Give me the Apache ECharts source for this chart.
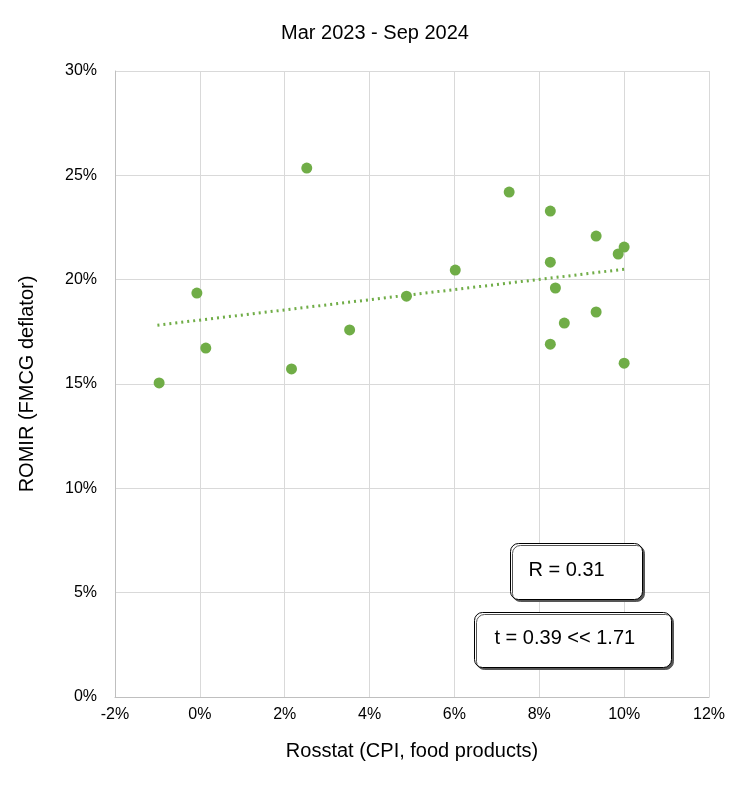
<!DOCTYPE html>
<html>
<head>
<meta charset="utf-8">
<script src="https://cdn.jsdelivr.net/npm/echarts@6/dist/echarts.min.js"></script>
<style>html,body{margin:0;padding:0;background:#fff}</style>
</head>
<body>
<div id="container" style="width:750px;height:795px"></div>
<script>
// CPI food (x, %) vs ROMIR FMCG deflator (y, %)
var cpiFood = [-0.96, -0.07, 0.14, 2.16, 2.52, 3.53, 4.87, 6.02, 7.29, 8.26, 8.26, 8.26, 8.38, 8.59, 9.34, 9.34, 9.86, 10.0, 10.0];
var romir   = [15.05, 19.36, 16.72, 15.72, 25.35, 17.59, 19.21, 20.46, 24.2, 23.29, 20.84, 16.91, 19.6, 17.92, 22.09, 18.45, 21.23, 21.56, 16.0];
var trendX = [-1.0, 10.0];
var trendY = [17.82, 20.5];
var boxR = 'R = 0.31';
var boxT = 't = 0.39 << 1.71';

var font = 'Liberation Sans, Arial, sans-serif';
var points = cpiFood.map(function (x, i) { return [x, romir[i]]; });
var trend = trendX.map(function (x, i) { return [x, trendY[i]]; });

var chart = echarts.init(document.getElementById('container'));
chart.setOption({
    animation: false,
    textStyle: { fontFamily: font },
    title: {
        text: 'Mar 2023 - Sep 2024', left: 'center', top: 18,
        textStyle: { fontFamily: font, fontSize: 20, fontWeight: 'normal', color: '#000' }
    },
    grid: { left: 115, right: 41, top: 71, bottom: 98 },
    xAxis: {
        type: 'value', min: -2, max: 12, interval: 2,
        name: 'Rosstat (CPI, food products)', nameLocation: 'middle', nameGap: 44,
        nameTextStyle: { fontSize: 20, color: '#000', fontFamily: font },
        axisLine: { show: true, onZero: false, lineStyle: { color: '#bfbfbf' } },
        axisTick: { show: false },
        axisLabel: { formatter: '{value}%', fontSize: 16, color: '#000', margin: 10 },
        splitLine: { lineStyle: { color: '#d9d9d9' } }
    },
    yAxis: {
        type: 'value', min: 0, max: 30, interval: 5,
        name: 'ROMIR (FMCG deflator)', nameLocation: 'middle', nameGap: 78,
        nameTextStyle: { fontSize: 20, color: '#000', fontFamily: font },
        axisLine: { show: true, onZero: false, lineStyle: { color: '#bfbfbf' } },
        axisTick: { show: false },
        axisLabel: { formatter: '{value}%', fontSize: 16, color: '#000', margin: 18 },
        splitLine: { lineStyle: { color: '#d9d9d9' } }
    },
    series: [
        {
            type: 'line', data: trend, symbol: 'none',
            lineStyle: { color: '#70ad47', width: 3, type: [2, 4] }
        },
        {
            type: 'scatter', data: points, symbolSize: 11,
            itemStyle: { color: '#70ad47', opacity: 1 }
        }
    ],
    graphic: [
        {
            type: 'group', left: 510, top: 543, z: 100,
            children: [
                { type: 'rect', z: 100, shape: { width: 132, height: 56, r: 8 },
                  style: { fill: '#fff', stroke: '#000', lineWidth: 1, shadowBlur: 0, shadowOffsetX: 2, shadowOffsetY: 2, shadowColor: '#555' } },
                { type: 'text', z: 101, left: 18, top: 17, style: { text: boxR, fontSize: 20, fontFamily: font, fill: '#000' } }
            ]
        },
        {
            type: 'group', left: 474, top: 612, z: 100,
            children: [
                { type: 'rect', z: 100, shape: { width: 197, height: 55, r: 8 },
                  style: { fill: '#fff', stroke: '#000', lineWidth: 1, shadowBlur: 0, shadowOffsetX: 2, shadowOffsetY: 2, shadowColor: '#555' } },
                { type: 'text', z: 101, left: 20, top: 16, style: { text: boxT, fontSize: 20, fontFamily: font, fill: '#000' } }
            ]
        }
    ]
});
</script>
</body>
</html>
